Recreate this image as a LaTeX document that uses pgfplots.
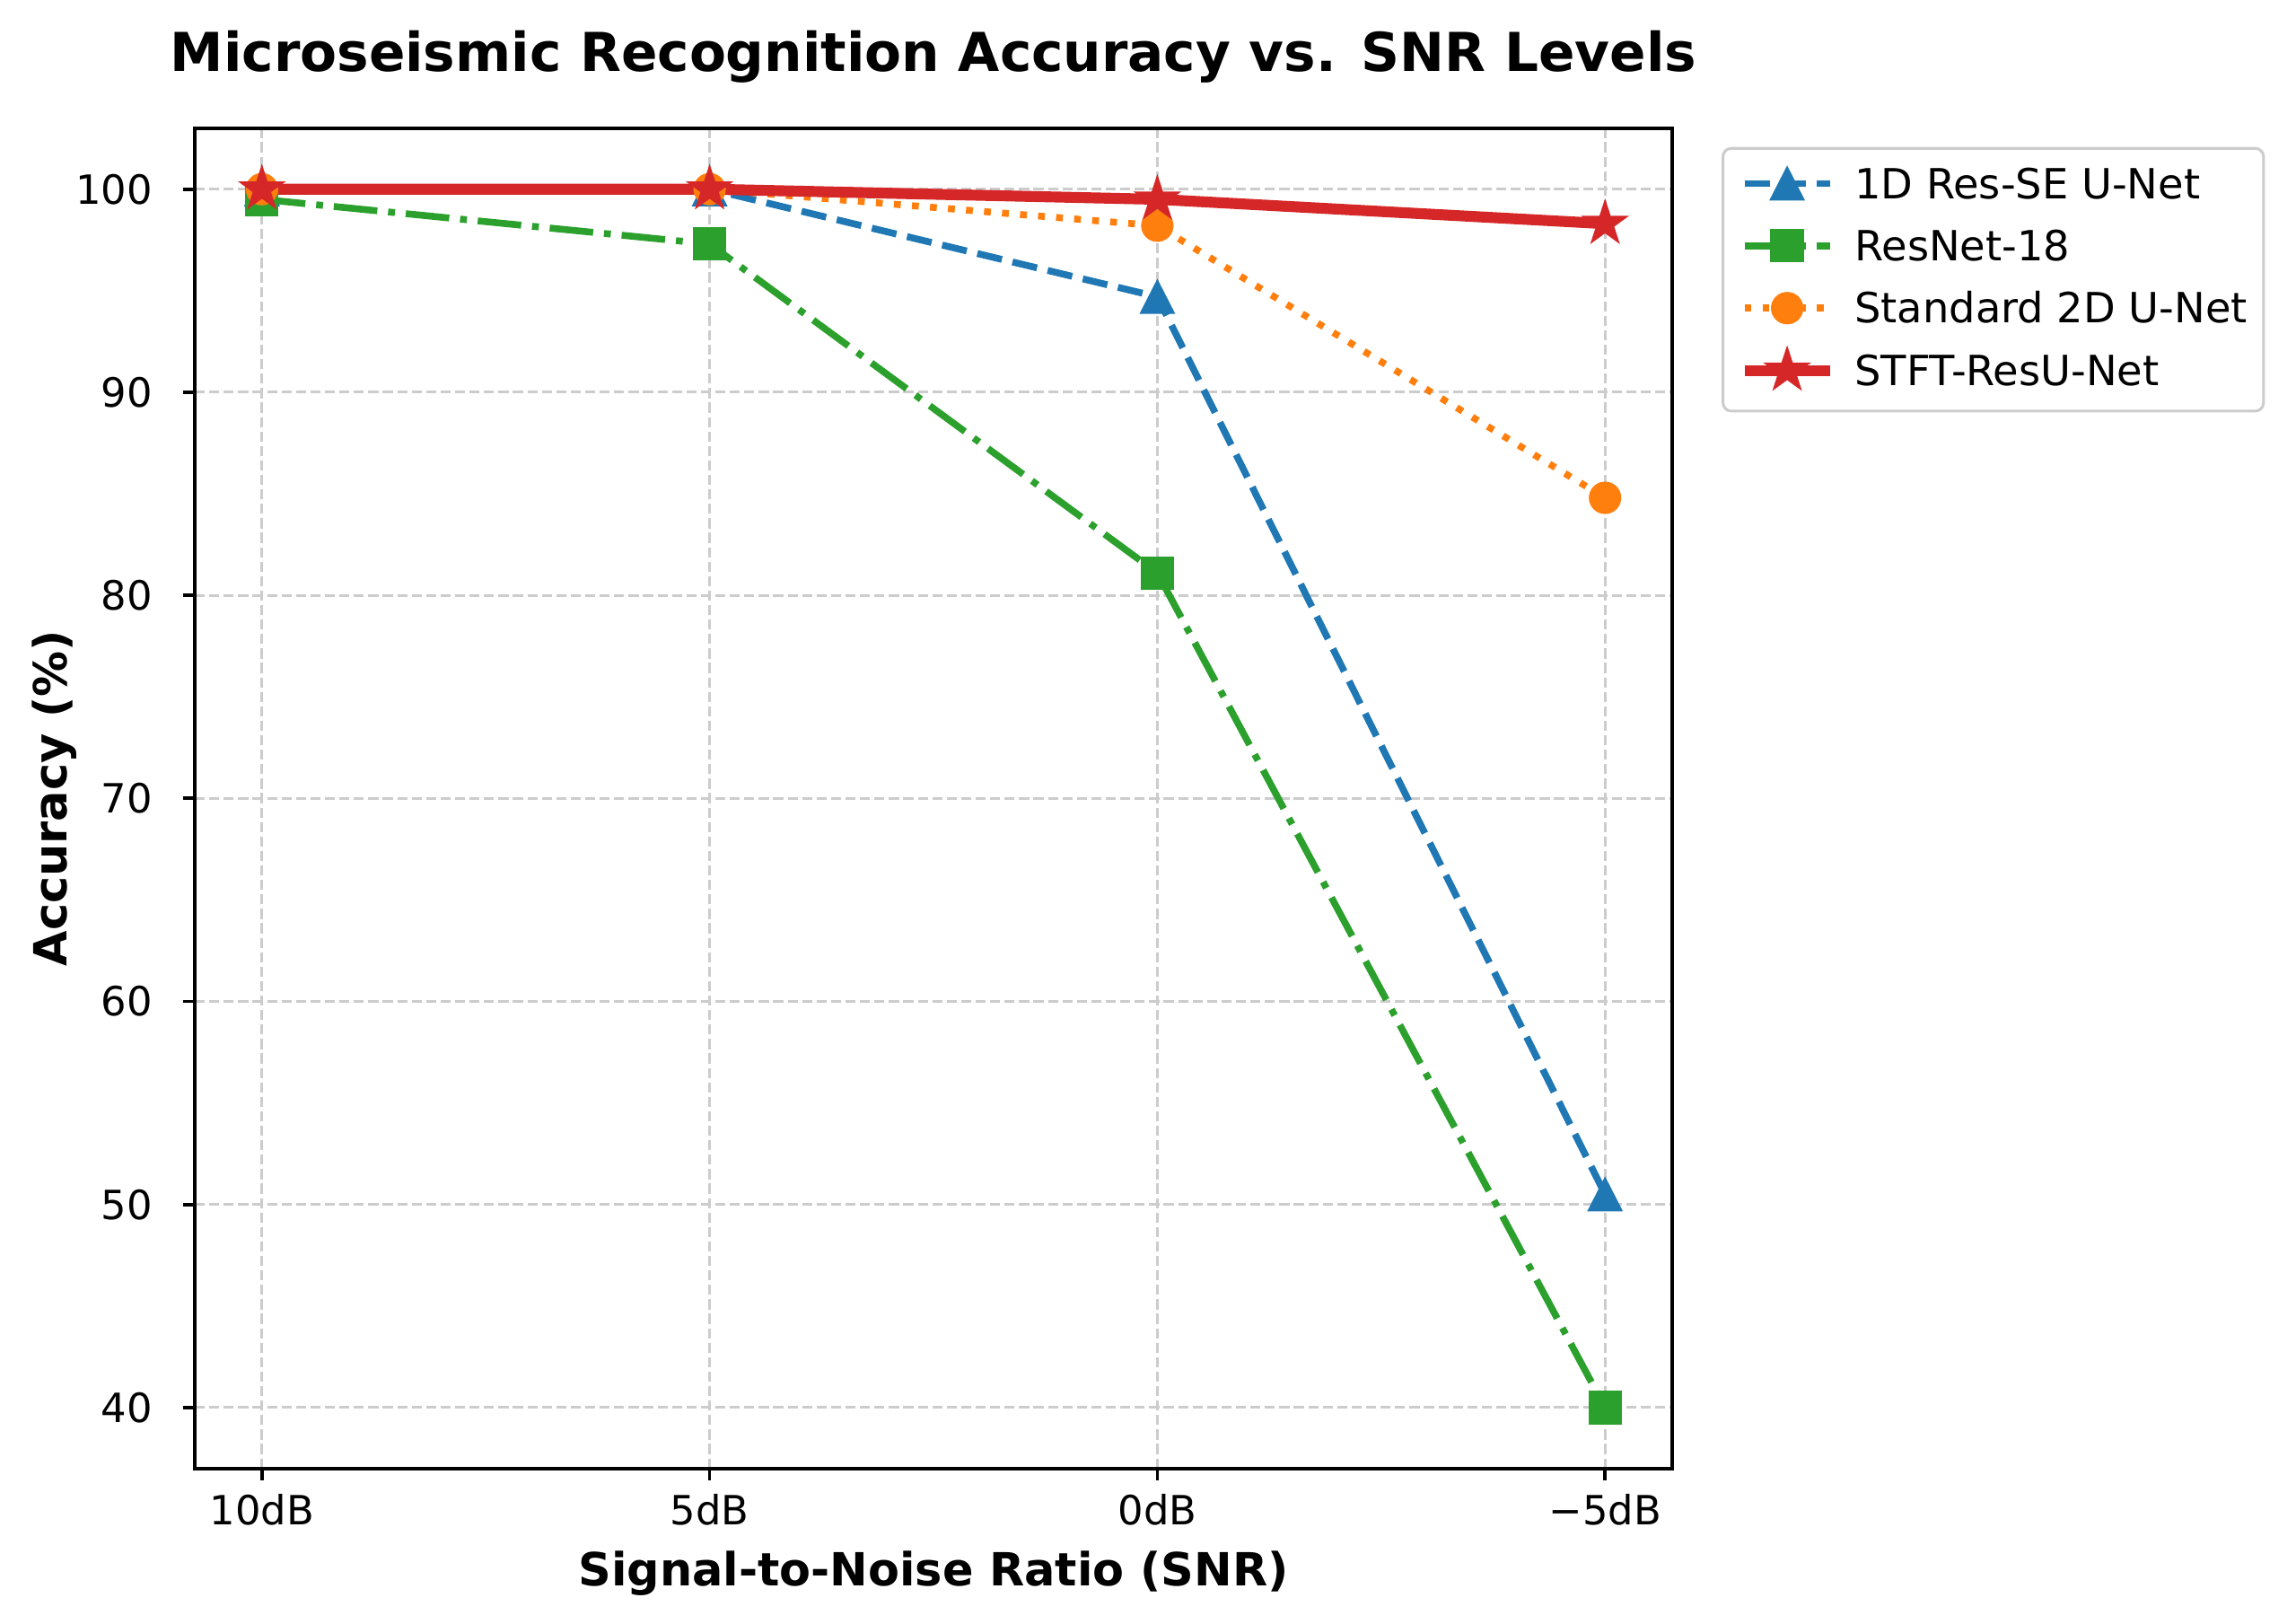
\documentclass[border=0pt]{standalone}
\usepackage{fontspec}
\setmainfont{DejaVu Sans}
\usepackage{pgfplots}
\pgfplotsset{compat=1.18}
\definecolor{tabblue}{HTML}{1F77B4}
\definecolor{taborange}{HTML}{FF7F0E}
\definecolor{tabgreen}{HTML}{2CA02C}
\definecolor{tabred}{HTML}{D62728}
\definecolor{gridgray}{RGB}{204,204,204}
\definecolor{legendgray}{RGB}{204,204,204}
\makeatletter
\pgfdeclareplotmark{fstar}{%
  \pgfpathmoveto{\pgfqpointpolar{90}{\pgfplotmarksize}}%
  \pgfpathlineto{\pgfqpointpolar{126}{0.382\pgfplotmarksize}}%
  \pgfpathlineto{\pgfqpointpolar{162}{\pgfplotmarksize}}%
  \pgfpathlineto{\pgfqpointpolar{198}{0.382\pgfplotmarksize}}%
  \pgfpathlineto{\pgfqpointpolar{234}{\pgfplotmarksize}}%
  \pgfpathlineto{\pgfqpointpolar{270}{0.382\pgfplotmarksize}}%
  \pgfpathlineto{\pgfqpointpolar{306}{\pgfplotmarksize}}%
  \pgfpathlineto{\pgfqpointpolar{342}{0.382\pgfplotmarksize}}%
  \pgfpathlineto{\pgfqpointpolar{18}{\pgfplotmarksize}}%
  \pgfpathlineto{\pgfqpointpolar{54}{0.382\pgfplotmarksize}}%
  \pgfpathclose
  \pgfusepathqfillstroke
}
\makeatother
\begin{document}
\begin{tikzpicture}
\begin{axis}[
  width=433.2pt, height=392.9pt, scale only axis,
  xmin=-0.15, xmax=3.15, ymin=37, ymax=103,
  xtick={0,1,2,3}, xticklabels={10dB,5dB,0dB,−5dB},
  ytick={40,50,60,70,80,90,100},
  tick pos=left, tick align=outside, major tick length=3.5pt,
  every tick/.style={black, line width=1pt},
  axis line style={black, line width=1pt},
  grid=major,
  major grid style={color=gridgray, line width=0.8pt, dash pattern=on 2.96pt off 1.28pt},
  /pgf/number format/assume math mode=true,
  ticklabel style={font=\fontsize{11.8}{14}\selectfont},
  xticklabel style={anchor=base, inner sep=0pt, yshift=-13pt},
  yticklabel style={anchor=east, inner sep=0pt, xshift=-8.7pt},
  title={Microseismic Recognition Accuracy vs. SNR Levels},
  title style={at={(axis description cs:0.5,1.04225)}, anchor=base, yshift=-6pt, inner sep=0pt, font=\fontsize{15.7}{18}\selectfont\bfseries},
  xlabel={Signal-to-Noise Ratio (SNR)},
  xlabel style={at={(axis description cs:0.5,-0.08755)}, anchor=base, inner sep=0pt, font=\fontsize{13.4}{16}\selectfont\bfseries},
  ylabel={Accuracy (\%)},
  ylabel style={at={(axis description cs:-0.0868,0.5)}, anchor=base, inner sep=0pt, font=\fontsize{13.4}{16}\selectfont\bfseries},
  legend style={at={(axis description cs:1,1)}, anchor=north west, xshift=14.5pt, yshift=-5.5pt,
    draw=legendgray, line width=0.8pt, rounded corners=2.4pt, fill=white,
    inner xsep=4.7pt, inner ysep=3.2pt,
    font=\fontsize{12.2}{14}\selectfont,
    row sep=2.47pt,
    nodes={inner sep=0pt, text height=11.5pt, text depth=4.3pt},
    /tikz/every odd column/.append style={column sep=5.7pt}},
  legend cell align=left,
  legend image code/.code={\draw[sharp corners, mark repeat=2, mark phase=2] plot coordinates {(0pt,0.8pt) (12.5pt,0.8pt) (25pt,0.8pt)};},
]
\addplot[color=tabblue, line width=2pt, dash pattern=on 7.4pt off 3.2pt,
  mark=triangle*, mark size=5.6pt, mark options={solid, sharp corners, line width=0.5pt, fill=tabblue, yshift=-1.6pt, yscale=1.13}]
  coordinates {(0,100) (1,100) (2,94.7) (3,50.5)};
\addlegendentry{1D Res-SE U-Net}
\addplot[color=tabgreen, line width=2pt, dash pattern=on 12.8pt off 3.2pt on 2pt off 3.2pt,
  mark=square*, mark size=4.65pt, mark options={solid, sharp corners, line width=0.5pt, fill=tabgreen}]
  coordinates {(0,99.5) (1,97.3) (2,81.1) (3,40.0)};
\addlegendentry{ResNet-18}
\addplot[color=taborange, line width=2pt, dash pattern=on 2pt off 3.3pt,
  mark=*, mark size=4.5pt, mark options={solid, line width=0.5pt, fill=taborange}]
  coordinates {(0,100) (1,100) (2,98.2) (3,84.8)};
\addlegendentry{Standard 2D U-Net}
\addplot[color=tabred, line width=3.2pt,
  mark=fstar, mark size=6.6pt, mark options={solid, sharp corners, line width=0.5pt, fill=tabred}]
  coordinates {(0,100) (1,100) (2,99.5) (3,98.3)};
\addlegendentry{STFT-ResU-Net}
\end{axis}
\pgfresetboundingbox
\path[use as bounding box] ([shift={(-57.1pt,-45.5pt)}]current axis.south west) rectangle ([shift={(182.9pt,37.6pt)}]current axis.north east);
\end{tikzpicture}
\end{document}
